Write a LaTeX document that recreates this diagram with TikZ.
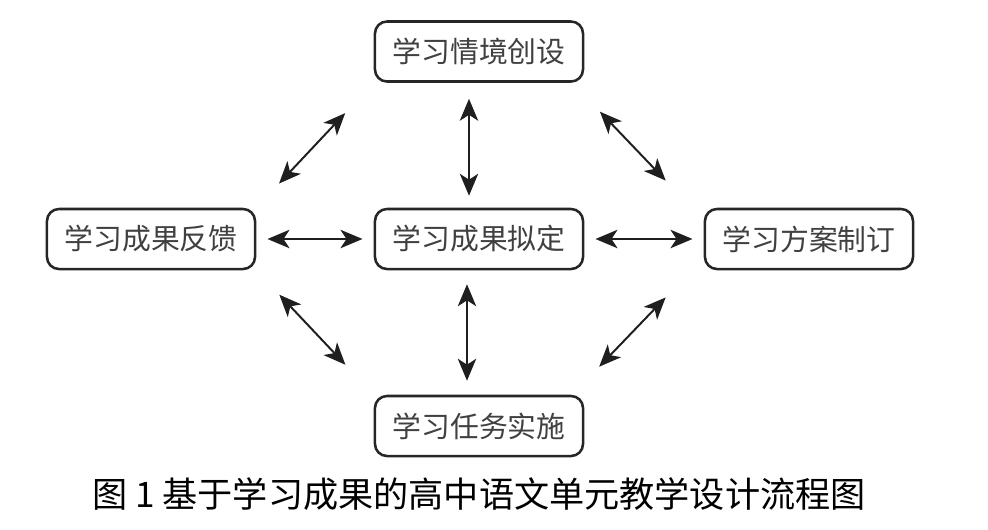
\documentclass[tikz,border=0pt]{standalone}
\usepackage{fontspec}
\usetikzlibrary{arrows.meta}
\newfontfamily\cjk{Noto Sans CJK SC}
\tikzset{
	stagebox/.style={draw=black!85, line width=1.8pt, rounded corners=0.3cm, minimum width=5.2cm, minimum height=1.5cm, inner sep=0pt, font=\cjk\fontsize{20.5}{24}\selectfont, text=black!75},
	dblarrow/.style={{Stealth[length=0.55cm,width=0.46cm,inset=0.15cm]}-{Stealth[length=0.55cm,width=0.46cm,inset=0.15cm]}, line width=1.4pt, color=black!88}
}

\begin{document}
\begin{tikzpicture}[x=0.025cm, y=-0.025cm]
		%%%%% START %%%%%
		
		\useasboundingbox (0, 0) rectangle (988, 529);
		
		\node[stagebox] (create) at (479, 51.5) {学习情境创设};
		\node[stagebox] (feedback) at (151, 239) {学习成果反馈};
		\node[stagebox] (define) at (479, 239) {学习成果拟定};
		\node[stagebox] (plan) at (809, 239) {学习方案制订};
		\node[stagebox] (carry) at (479, 426) {学习任务实施};
		
		\draw[dblarrow, shorten <=0.28cm, shorten >=0.28cm] (feedback.east) -- (define.west);
		\draw[dblarrow, shorten <=0.28cm, shorten >=0.28cm] (define.east) -- (plan.west);
		\draw[dblarrow, shorten <=0.4cm, shorten >=0.3cm] ([xshift=-0.25cm]create.south) -- ([xshift=-0.25cm]define.north);
		\draw[dblarrow, shorten <=0.35cm, shorten >=0.35cm] ([xshift=-0.3cm]define.south) -- ([xshift=-0.3cm]carry.north);
		
		\draw[dblarrow, shorten <=1.04cm, shorten >=0.83cm] (create.south west) -- (feedback.north east);
		\draw[dblarrow, shorten <=1.0cm, shorten >=0.94cm] ([xshift=-0.3cm]create.south east) -- ([xshift=-0.3cm]plan.north west);
		\draw[dblarrow, shorten <=0.84cm, shorten >=1.03cm] (feedback.south east) -- (carry.north west);
		\draw[dblarrow, shorten <=0.97cm, shorten >=0.94cm] ([xshift=-0.3cm]carry.north east) -- ([xshift=-0.3cm]plan.south west);
		
		\node[font=\cjk\fontsize{25}{30}\selectfont] (caption) at (479, 494) {图 1 基于学习成果的高中语文单元教学设计流程图};
		
		%%%%% END %%%%%
	\end{tikzpicture}
\end{document}
